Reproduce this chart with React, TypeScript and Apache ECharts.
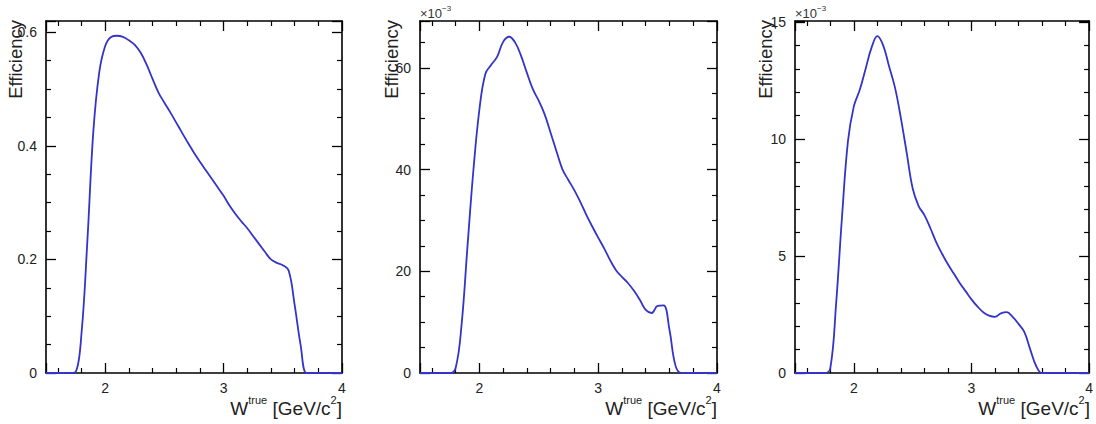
import React, { useEffect, useRef } from "react";
import * as echarts from "echarts";

// W^true bin positions [GeV/c^2]
const wTrue = [
  1.5, 1.55, 1.6, 1.65, 1.7, 1.75, 1.8, 1.85, 1.9, 1.95, 2.0, 2.05, 2.1, 2.15, 2.2, 2.25, 2.3,
  2.35, 2.4, 2.45, 2.5, 2.55, 2.6, 2.65, 2.7, 2.75, 2.8, 2.85, 2.9, 2.95, 3.0, 3.05, 3.1, 3.15,
  3.2, 3.25, 3.3, 3.35, 3.4, 3.45, 3.5, 3.55, 3.6, 3.65, 3.7, 3.75, 3.8, 3.85, 3.9, 3.95, 4.0,
];

// Panel 1 efficiency
const eff1 = [
  0, 0, 0, 0, 0, 0.002, 0.07, 0.235, 0.426, 0.53, 0.576, 0.592, 0.594, 0.592, 0.586, 0.578, 0.564,
  0.543, 0.518, 0.494, 0.476, 0.459, 0.441, 0.423, 0.405, 0.388, 0.372, 0.357, 0.342, 0.327, 0.312,
  0.295, 0.28, 0.267, 0.255, 0.241, 0.227, 0.213, 0.2, 0.194, 0.19, 0.18, 0.12, 0.05, 0, 0, 0, 0, 0,
  0, 0,
];

// Panel 2 efficiency (x10^-3)
const eff2 = [
  0, 0, 0, 0, 0, 0, 1.0, 9.5, 25, 40, 51.8, 58.8, 60.6, 62.2, 65.1, 66.1, 65.0, 62.4, 59, 55.8,
  53.5, 50.8, 47.2, 43.5, 40.0, 37.9, 35.9, 33.6, 31.1, 28.8, 26.6, 24.5, 22.2, 20.2, 18.9, 17.7,
  16.2, 14.4, 12.4, 11.8, 13.2, 13.3, 8.5, 1.5, 0, 0, 0, 0, 0, 0, 0,
];

// Panel 3 efficiency (x10^-3)
const eff3 = [
  0, 0, 0, 0, 0, 0, 0.2, 3.0, 6.7, 9.9, 11.4, 12.1, 13.0, 13.9, 14.4, 14.0, 13.1, 12.2, 10.9, 9.4,
  7.9, 7.15, 6.75, 6.2, 5.6, 5.1, 4.65, 4.25, 3.85, 3.5, 3.15, 2.85, 2.6, 2.45, 2.4, 2.55, 2.6, 2.4,
  2.1, 1.75, 1.0, 0.3, 0, 0, 0, 0, 0, 0, 0, 0, 0,
];

const xTickLabels = [2, 3, 4];
const yTicks1 = [0, 0.2, 0.4, 0.6];
const yTicks2 = [0, 20, 40, 60];
const yTicks3 = [0, 5, 10, 15];

const FONT = "'Liberation Sans', Arial, Helvetica, sans-serif";
const LINE_COLOR = "#3434c8";

export default function App() {
  const ref = useRef<HTMLDivElement>(null);

  useEffect(() => {
    if (!ref.current) return;
    const chart = echarts.init(ref.current, undefined, { renderer: "svg" });

    const grids = [
      { left: 46, top: 21, width: 296, height: 352 },
      { left: 420, top: 21, width: 297, height: 352 },
      { left: 795, top: 21, width: 295, height: 352 },
    ];
    const panels = [
      { data: eff1, yMax: 0.62, step: 0.2, minor: 4, labels: yTicks1 },
      { data: eff2, yMax: 69.2, step: 20, minor: 4, labels: yTicks2 },
      { data: eff3, yMax: 15.05, step: 5, minor: 5, labels: yTicks3 },
    ];

    const axisLine = { show: true, onZero: false, lineStyle: { color: "#000", width: 1.6 } };
    const tick = { show: true, inside: true, length: 10, lineStyle: { color: "#000", width: 1.3 } };
    const labelStyle = { fontFamily: FONT, fontSize: 14, color: "#222" };

    const xAxis: any[] = [];
    const yAxis: any[] = [];
    const series: any[] = [];

    panels.forEach((p, gi) => {
      ["bottom", "top"].forEach((pos) => {
        xAxis.push({
          type: "value",
          gridIndex: gi,
          position: pos,
          min: 1.5,
          max: 4,
          splitNumber: 2,
          minInterval: 1,
          maxInterval: 1,
          axisLine,
          axisTick: tick,
          minorTick: { show: true, splitNumber: 5, length: 5, lineStyle: { color: "#000", width: 1.2 } },
          splitLine: { show: false },
          minorSplitLine: { show: false },
          axisLabel: {
            show: pos === "bottom",
            margin: 8,
            ...labelStyle,
            formatter: (v: number) =>
              xTickLabels.some((t) => Math.abs(t - v) < 1e-6) ? String(Math.round(v)) : "",
          },
        });
      });
      ["left", "right"].forEach((pos) => {
        yAxis.push({
          type: "value",
          gridIndex: gi,
          position: pos,
          min: 0,
          max: p.yMax,
          splitNumber: 3,
          minInterval: p.step,
          maxInterval: p.step,
          axisLine,
          axisTick: tick,
          minorTick: { show: true, splitNumber: p.minor, length: 5, lineStyle: { color: "#000", width: 1.2 } },
          splitLine: { show: false },
          minorSplitLine: { show: false },
          axisLabel: {
            show: pos === "left",
            margin: 9,
            ...labelStyle,
            formatter: (v: number) => {
              const hit = p.labels.find((t) => Math.abs(t - v) < 1e-6);
              return hit === undefined ? "" : String(hit);
            },
          },
        });
      });
      series.push({
        type: "line",
        xAxisIndex: gi * 2,
        yAxisIndex: gi * 2,
        data: wTrue.map((x, i) => [x, p.data[i]]),
        smooth: 0.4,
        showSymbol: false,
        symbol: "none",
        clip: true,
        lineStyle: { color: LINE_COLOR, width: 1.8 },
      });
    });

    const yTitleX = [15, 391, 765];
    const xTitleRight = [342, 717, 1090];
    const graphic: any[] = [];
    yTitleX.forEach((x) => {
      graphic.push({
        type: "text",
        x,
        y: 20,
        rotation: Math.PI / 2,
        style: {
          text: "Efficiency",
          fontFamily: FONT,
          fontSize: 18.5,
          fill: "#222",
          align: "right",
          verticalAlign: "middle",
        },
      });
    });
    xTitleRight.forEach((x) => {
      graphic.push({
        type: "text",
        x,
        y: 406,
        style: {
          text: "{m|W}{s|true}{m| [GeV/c}{s|2}{m|]}",
          align: "right",
          verticalAlign: "middle",
          fill: "#222",
          rich: {
            m: { fontFamily: FONT, fontSize: 19, lineHeight: 24, verticalAlign: "bottom", fill: "#222" },
            s: { fontFamily: FONT, fontSize: 11, lineHeight: 13, verticalAlign: "top", fill: "#222" },
          },
        },
      });
    });
    [420, 795].forEach((x) => {
      graphic.push({
        type: "text",
        x,
        y: 12,
        style: {
          text: "{m|\u00d710}{s|\u22123}",
          align: "left",
          verticalAlign: "middle",
          fill: "#333",
          rich: {
            m: { fontFamily: FONT, fontSize: 13, lineHeight: 15, verticalAlign: "bottom", fill: "#333" },
            s: { fontFamily: FONT, fontSize: 8, lineHeight: 9, verticalAlign: "top", fill: "#333" },
          },
        },
      });
    });

    chart.setOption({
      animation: false,
      backgroundColor: "#fff",
      grid: grids,
      xAxis,
      yAxis,
      series,
      graphic,
    });

    return () => chart.dispose();
  }, []);

  return (
    <div
      ref={ref}
      style={{ position: "fixed", left: 0, top: 0, width: 1096, height: 424, background: "#fff" }}
    />
  );
}
